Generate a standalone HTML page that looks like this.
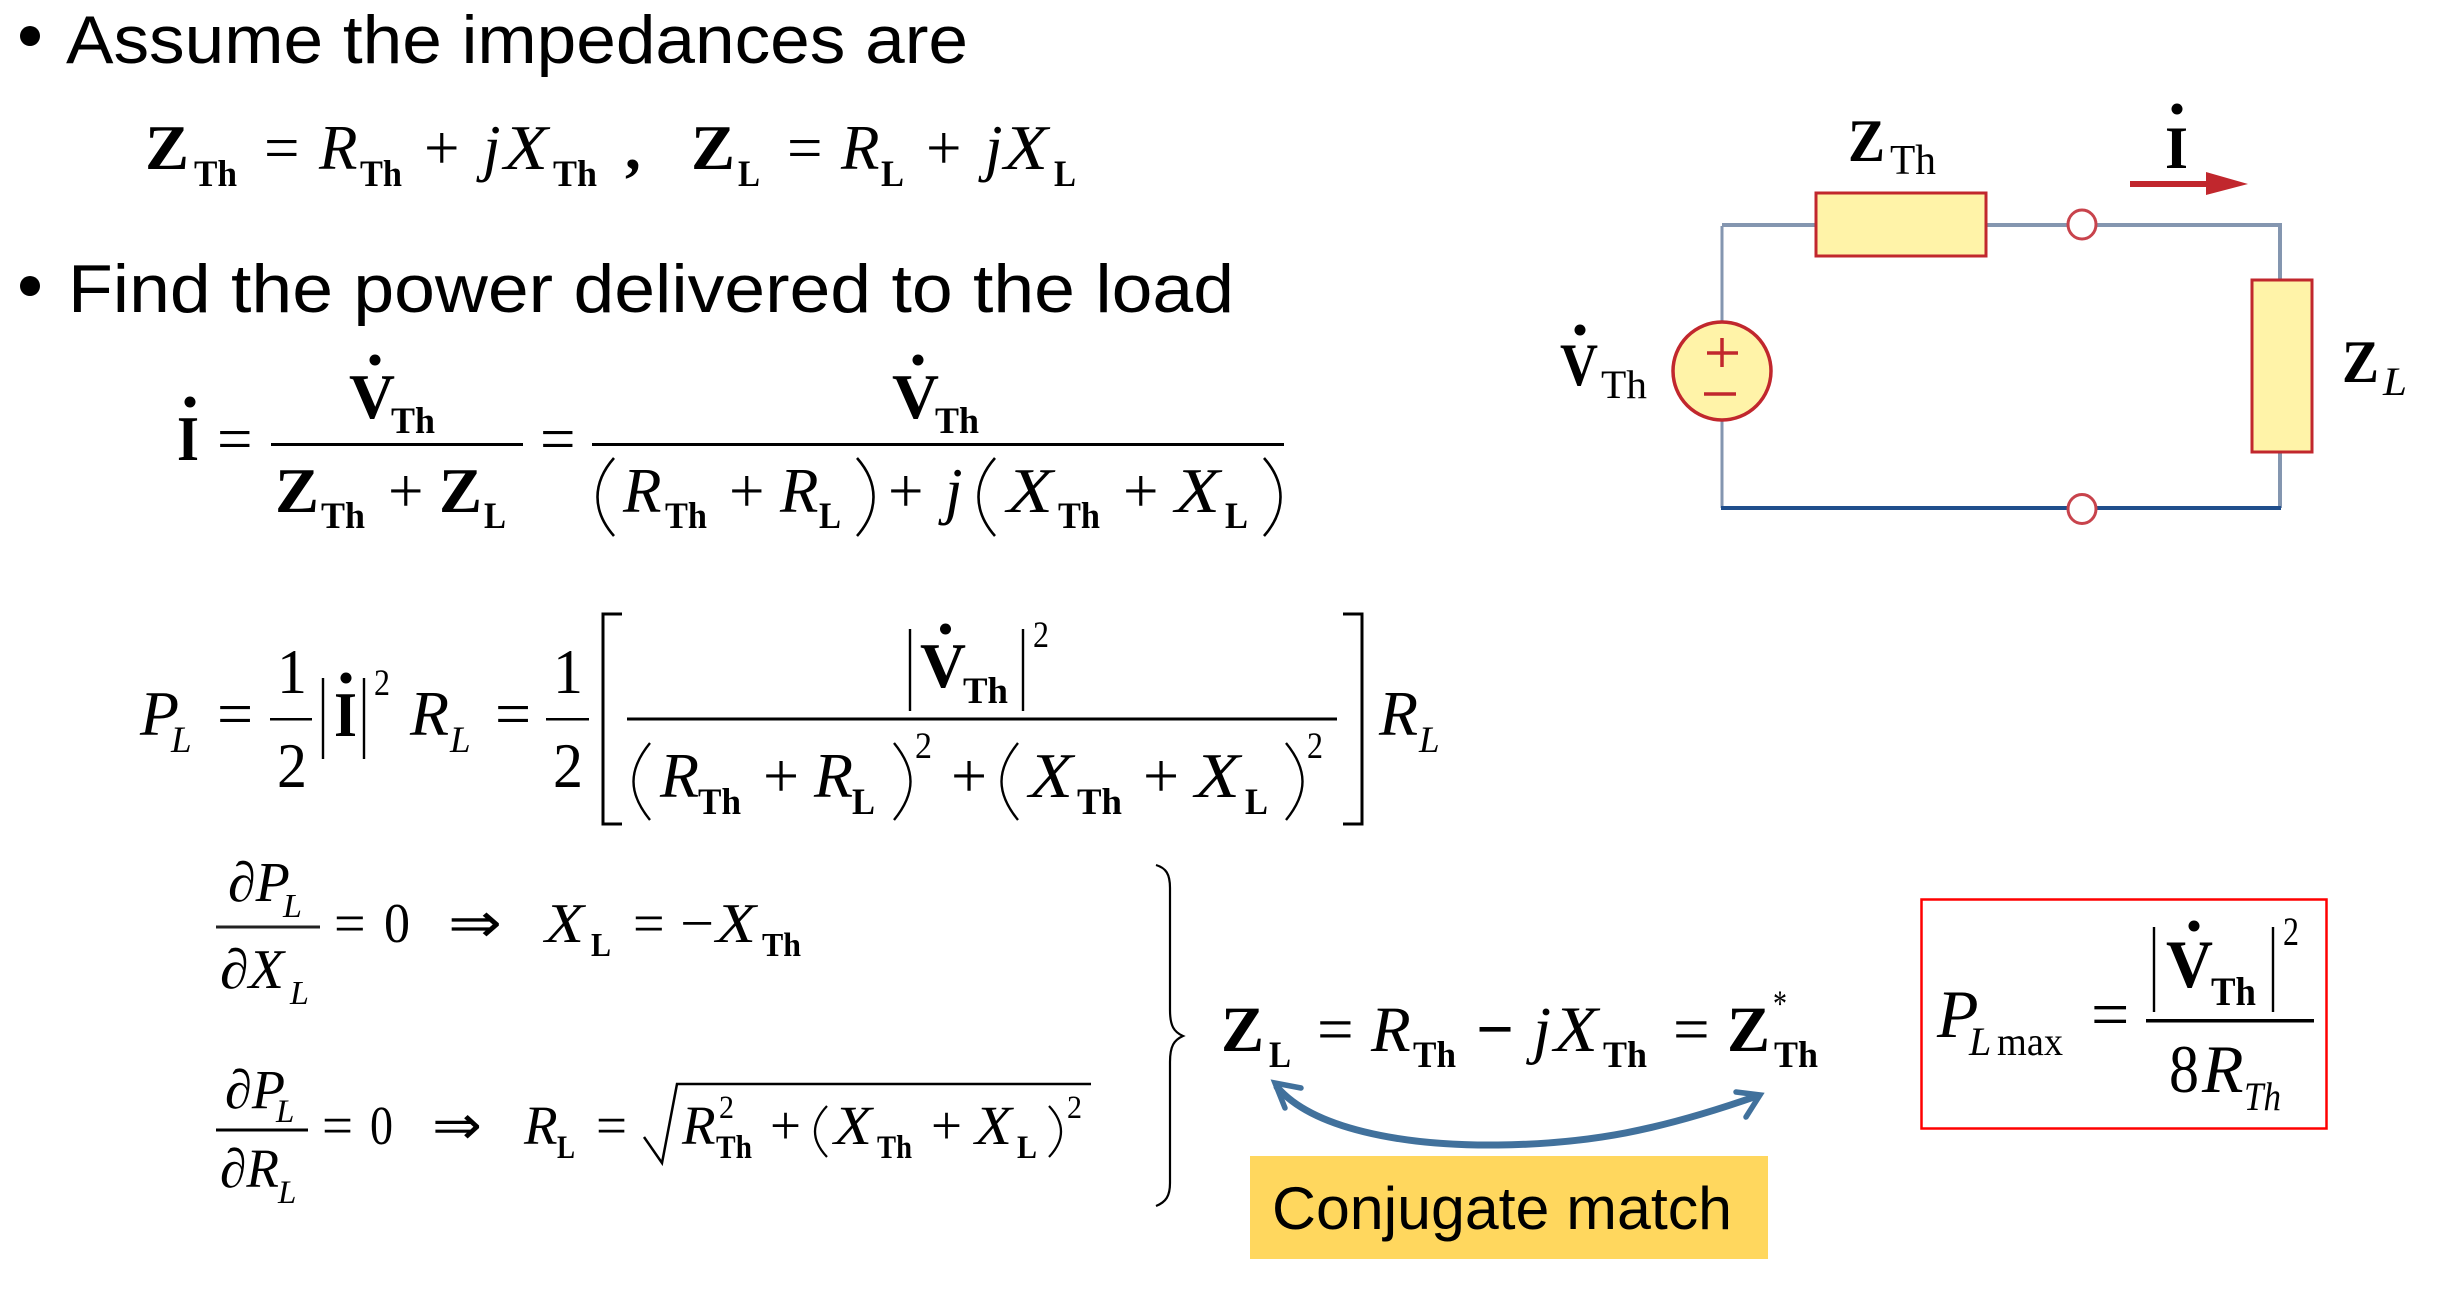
<!DOCTYPE html>
<html><head><meta charset="utf-8"><style>
html,body{margin:0;padding:0;background:#fff}
svg{display:block}
text{font-family:"Liberation Serif",serif;fill:#000;white-space:pre}
.s{font-family:"Liberation Sans",sans-serif}
.b{font-weight:bold}.i{font-style:italic}
.l{fill:none;stroke:#000}
</style></head><body>
<svg width="2442" height="1299" viewBox="0 0 2442 1299" xmlns="http://www.w3.org/2000/svg">
<rect width="2442" height="1299" fill="#fff"/>
<!-- bullets -->
<circle cx="30" cy="36" r="10"/><circle cx="30" cy="286" r="10"/>
<g class="s" font-size="68">
<text class="s" x="66" y="63" textLength="902" lengthAdjust="spacingAndGlyphs">Assume the impedances are</text>
<text class="s" x="68" y="312" textLength="1166" lengthAdjust="spacingAndGlyphs">Find the power delivered to the load</text>
</g>
<!-- Line 1 -->
<g font-size="63">
<text class="b" x="145" y="169" textLength="44" lengthAdjust="spacingAndGlyphs">Z</text>
<text x="264" y="169">=</text>
<text class="i" x="319" y="169">R</text>
<text x="424" y="169">+</text>
<text class="i" x="483" y="169">j</text>
<text class="i" x="504" y="169" textLength="44" lengthAdjust="spacingAndGlyphs">X</text>
<text class="b" x="625" y="169">,</text>
<text class="b" x="691" y="169" textLength="44" lengthAdjust="spacingAndGlyphs">Z</text>
<text x="787" y="169">=</text>
<text class="i" x="841" y="169">R</text>
<text x="926" y="169">+</text>
<text class="i" x="985" y="169">j</text>
<text class="i" x="1004" y="169" textLength="44" lengthAdjust="spacingAndGlyphs">X</text>
</g>
<g font-size="37" class="b">
<text class="b" x="194" y="186" textLength="43" lengthAdjust="spacingAndGlyphs">Th</text>
<text class="b" x="360" y="186" textLength="42" lengthAdjust="spacingAndGlyphs">Th</text>
<text class="b" x="553" y="186" textLength="44" lengthAdjust="spacingAndGlyphs">Th</text>
<text class="b" x="738" y="186" textLength="22" lengthAdjust="spacingAndGlyphs">L</text>
<text class="b" x="881" y="186" textLength="23" lengthAdjust="spacingAndGlyphs">L</text>
<text class="b" x="1054" y="186" textLength="22" lengthAdjust="spacingAndGlyphs">L</text>
</g>
<!-- I eq -->
<g font-size="63">
<text class="b" x="177" y="460" textLength="22" lengthAdjust="spacingAndGlyphs">I</text>
<text x="217" y="460">=</text>
<text class="b" x="349" y="418" textLength="46" lengthAdjust="spacingAndGlyphs">V</text>
<text class="b" x="275" y="512" textLength="44" lengthAdjust="spacingAndGlyphs">Z</text>
<text x="388" y="512">+</text>
<text class="b" x="439" y="512" textLength="43" lengthAdjust="spacingAndGlyphs">Z</text>
<text x="540" y="460">=</text>
<text class="b" x="892" y="418" textLength="47" lengthAdjust="spacingAndGlyphs">V</text>
<text class="i" x="623" y="512">R</text>
<text x="729" y="512">+</text>
<text class="i" x="780" y="512">R</text>
<text x="888" y="512">+</text>
<text class="i" x="945" y="512">j</text>
<text class="i" x="1007" y="512" textLength="46" lengthAdjust="spacingAndGlyphs">X</text>
<text x="1123" y="512">+</text>
<text class="i" x="1175" y="512" textLength="45" lengthAdjust="spacingAndGlyphs">X</text>
</g>
<circle cx="190" cy="402" r="5.5"/><circle cx="375" cy="360" r="5.5"/><circle cx="918" cy="360" r="5.5"/>
<g font-size="37">
<text x="391" y="433" class="b" textLength="44" lengthAdjust="spacingAndGlyphs">Th</text>
<text x="935" y="433" class="b" textLength="44" lengthAdjust="spacingAndGlyphs">Th</text>
<text x="321" y="528" class="b" textLength="44" lengthAdjust="spacingAndGlyphs">Th</text>
<text x="484" y="528" class="b" textLength="22" lengthAdjust="spacingAndGlyphs">L</text>
<text x="665" y="528" class="b" textLength="42" lengthAdjust="spacingAndGlyphs">Th</text>
<text x="819" y="528" class="b" textLength="22" lengthAdjust="spacingAndGlyphs">L</text>
<text x="1058" y="528" class="b" textLength="42" lengthAdjust="spacingAndGlyphs">Th</text>
<text x="1225" y="528" class="b" textLength="23" lengthAdjust="spacingAndGlyphs">L</text>
</g>
<rect x="271" y="443" width="252" height="3"/><rect x="592" y="443" width="692" height="3"/>
<g class="l" stroke-width="2.6">
<path d="M614 458C592 483 592 511 614 536"/><path d="M857 458C879 483 879 511 857 536"/>
<path d="M995 458C973 483 973 511 995 536"/><path d="M1264 458C1286 483 1286 511 1264 536"/>
</g>
<!-- P_L eq -->
<g font-size="64">
<text class="i" x="140" y="735">P</text>
<text x="217" y="735">=</text>
<text x="277" y="693" textLength="30" lengthAdjust="spacingAndGlyphs">1</text>
<text x="277" y="787" textLength="30" lengthAdjust="spacingAndGlyphs">2</text>
<text class="b" x="334" y="736" textLength="23" lengthAdjust="spacingAndGlyphs">I</text>
<text class="i" x="410" y="735">R</text>
<text x="495" y="735">=</text>
<text x="553" y="693" textLength="30" lengthAdjust="spacingAndGlyphs">1</text>
<text x="553" y="787" textLength="30" lengthAdjust="spacingAndGlyphs">2</text>
<text class="b" x="920" y="687" textLength="46" lengthAdjust="spacingAndGlyphs">V</text>
<text class="i" x="660" y="797">R</text>
<text x="763" y="797">+</text>
<text class="i" x="814" y="797">R</text>
<text x="951" y="797">+</text>
<text class="i" x="1029" y="797" textLength="44" lengthAdjust="spacingAndGlyphs">X</text>
<text x="1143" y="797">+</text>
<text class="i" x="1195" y="797" textLength="45" lengthAdjust="spacingAndGlyphs">X</text>
<text class="i" x="1379" y="735">R</text>
</g>
<circle cx="346" cy="678" r="5.5"/><circle cx="945.5" cy="629" r="5.5"/>
<g font-size="37">
<text class="i" x="171" y="752">L</text>
<text class="i" x="450" y="752">L</text>
<text class="i" x="1419" y="752">L</text>
<text x="374" y="695" textLength="16" lengthAdjust="spacingAndGlyphs">2</text>
<text x="1033" y="647" textLength="16" lengthAdjust="spacingAndGlyphs">2</text>
<text x="915" y="758" textLength="17" lengthAdjust="spacingAndGlyphs">2</text>
<text x="1307" y="758" textLength="16" lengthAdjust="spacingAndGlyphs">2</text>
<text class="b" x="963" y="703" textLength="45" lengthAdjust="spacingAndGlyphs">Th</text>
<text class="b" x="698" y="814" textLength="43" lengthAdjust="spacingAndGlyphs">Th</text>
<text class="b" x="852" y="814" textLength="23" lengthAdjust="spacingAndGlyphs">L</text>
<text class="b" x="1077" y="814" textLength="45" lengthAdjust="spacingAndGlyphs">Th</text>
<text class="b" x="1245" y="814" textLength="23" lengthAdjust="spacingAndGlyphs">L</text>
</g>
<rect x="270" y="718" width="42" height="2.5"/><rect x="546" y="718" width="43" height="2.5"/>
<rect x="627" y="717.5" width="710" height="3"/>
<g class="l" stroke-width="2.4">
<path d="M323 678V759M364 678V759M910 629V711M1023 629V711"/>
<path d="M650 743C628 770 628 793 650 820"/><path d="M894 743C916 770 916 793 894 820"/>
<path d="M1018 743C996 770 996 793 1018 820"/><path d="M1286 743C1308 770 1308 793 1286 820"/>
</g>
<path class="l" stroke-width="3" d="M622 614H603V824H622M1343 614H1362V824H1343"/>
<!-- partial 1 -->
<g font-size="56">
<text class="i" x="228" y="901">∂P</text>
<text x="334" y="942">=</text>
<text x="384" y="942" textLength="26" lengthAdjust="spacingAndGlyphs">0</text>
<text x="448" y="942" textLength="54" lengthAdjust="spacingAndGlyphs">⇒</text>
<text class="i" x="545" y="942" textLength="39" lengthAdjust="spacingAndGlyphs">X</text>
<text x="633" y="942">=</text>
<text x="680" y="942" textLength="34" lengthAdjust="spacingAndGlyphs">−</text>
<text class="i" x="716" y="942" textLength="40" lengthAdjust="spacingAndGlyphs">X</text>
<text class="i" x="220" y="988" textLength="64" lengthAdjust="spacingAndGlyphs">∂X</text>
</g>
<g font-size="34">
<text class="i" x="283" y="917">L</text>
<text class="b" x="591" y="956" textLength="20" lengthAdjust="spacingAndGlyphs">L</text>
<text class="b" x="762" y="956" textLength="39" lengthAdjust="spacingAndGlyphs">Th</text>
<text class="i" x="290" y="1004">L</text>
</g>
<rect x="216" y="925.5" width="104" height="3" fill="#222"/>
<!-- partial 2 -->
<g font-size="55">
<text class="i" x="225" y="1108" textLength="60" lengthAdjust="spacingAndGlyphs">∂P</text>
<text x="322" y="1144">=</text>
<text x="370" y="1144" textLength="23" lengthAdjust="spacingAndGlyphs">0</text>
<text x="432" y="1144" textLength="50" lengthAdjust="spacingAndGlyphs">⇒</text>
<text class="i" x="524" y="1144">R</text>
<text x="596" y="1144">=</text>
<text class="i" x="682" y="1144">R</text>
<text x="770" y="1144">+</text>
<text class="i" x="834" y="1144" textLength="38" lengthAdjust="spacingAndGlyphs">X</text>
<text x="931" y="1144">+</text>
<text class="i" x="975" y="1144" textLength="37" lengthAdjust="spacingAndGlyphs">X</text>
<text class="i" x="220" y="1187" textLength="59" lengthAdjust="spacingAndGlyphs">∂R</text>
</g>
<g font-size="33">
<text class="i" x="276" y="1122">L</text>
<text class="b" x="557" y="1158" textLength="18" lengthAdjust="spacingAndGlyphs">L</text>
<text x="719" y="1118" textLength="15" lengthAdjust="spacingAndGlyphs">2</text>
<text class="b" x="716" y="1158" textLength="36" lengthAdjust="spacingAndGlyphs">Th</text>
<text class="b" x="877" y="1158" textLength="35" lengthAdjust="spacingAndGlyphs">Th</text>
<text class="b" x="1017" y="1158" textLength="20" lengthAdjust="spacingAndGlyphs">L</text>
<text x="1067" y="1118" textLength="15" lengthAdjust="spacingAndGlyphs">2</text>
<text class="i" x="278" y="1203">L</text>
</g>
<rect x="216" y="1128.5" width="92" height="3"/>
<path class="l" stroke-width="2.5" d="M644 1137L662 1163L677 1084H1091"/>
<path class="l" stroke-width="2.2" d="M827 1106C811 1123 811 1140 827 1157M1049 1106C1065 1123 1065 1140 1049 1157"/>
<!-- brace -->
<path class="l" stroke-width="2.2" d="M1156 865C1166 868 1170 874 1170 888V1010C1170 1026 1174 1032 1183 1036C1174 1040 1170 1046 1170 1062V1183C1170 1196 1166 1202 1156 1206"/>
<!-- conjugate eq -->
<g font-size="65">
<text class="b" x="1221" y="1051" textLength="43" lengthAdjust="spacingAndGlyphs">Z</text>
<text x="1317" y="1051">=</text>
<text class="i" x="1371" y="1051">R</text>
<text class="b" x="1476" y="1051" textLength="38" lengthAdjust="spacingAndGlyphs">−</text>
<text class="i" x="1533" y="1051">j</text>
<text class="i" x="1554" y="1051" textLength="44" lengthAdjust="spacingAndGlyphs">X</text>
<text x="1673" y="1051">=</text>
<text class="b" x="1727" y="1051" textLength="43" lengthAdjust="spacingAndGlyphs">Z</text>
</g>
<g font-size="37">
<text class="b" x="1269" y="1067" textLength="22" lengthAdjust="spacingAndGlyphs">L</text>
<text class="b" x="1413" y="1067" textLength="43" lengthAdjust="spacingAndGlyphs">Th</text>
<text class="b" x="1603" y="1067" textLength="44" lengthAdjust="spacingAndGlyphs">Th</text>
<text x="1773" y="1016" textLength="14" lengthAdjust="spacingAndGlyphs">*</text>
<text class="b" x="1774" y="1067" textLength="44" lengthAdjust="spacingAndGlyphs">Th</text>
</g>
<!-- arrow -->
<g fill="none" stroke="#41719c" stroke-width="7" stroke-linecap="round">
<path d="M1277 1087C1312 1128 1400 1146 1498 1145C1590 1144 1660 1130 1757 1096"/>
<path stroke-width="5.5" d="M1285 1108L1275 1083L1301 1088"/>
<path stroke-width="5.5" d="M1736 1092L1760 1095L1746 1117"/>
</g>
<!-- yellow -->
<rect x="1250" y="1156" width="518" height="103" fill="#ffd75e"/>
<text class="s" x="1272" y="1229" font-size="60" textLength="460" lengthAdjust="spacingAndGlyphs">Conjugate match</text>
<!-- red box -->
<rect x="1921.5" y="899.5" width="405" height="229" fill="#fff" stroke="#f00" stroke-width="2.5"/>
<g font-size="68">
<text class="i" x="1937" y="1037">P</text>
<text x="2091" y="1037">=</text>
<text class="b" x="2166" y="987" textLength="47" lengthAdjust="spacingAndGlyphs">V</text>
<text x="2169" y="1092" textLength="30" lengthAdjust="spacingAndGlyphs">8</text>
<text class="i" x="2202" y="1092">R</text>
</g>
<g font-size="40">
<text class="i" x="1969" y="1055">L</text>
<text x="1997" y="1055" textLength="66" lengthAdjust="spacingAndGlyphs">max</text>
<text class="b" x="2211" y="1005" textLength="45" lengthAdjust="spacingAndGlyphs">Th</text>
<text x="2283" y="945" textLength="16" lengthAdjust="spacingAndGlyphs">2</text>
<text class="i" x="2244" y="1110" textLength="37" lengthAdjust="spacingAndGlyphs">Th</text>
</g>
<circle cx="2194" cy="926" r="5.5"/>
<rect x="2146" y="1019" width="168" height="3.5"/>
<path class="l" stroke-width="2.4" d="M2154 927V1012M2273 927V1012"/>
<!-- circuit -->
<path d="M1722 321V226M1722 421V508" fill="none" stroke="#8496b0" stroke-width="3"/>
<path d="M1722 225H2280V280M2280 452V508" fill="none" stroke="#8496b0" stroke-width="4"/>
<path d="M1721 508H2281" stroke="#1f4e8c" stroke-width="4"/>
<rect x="1816" y="193" width="170" height="63" fill="#fff3a8" stroke="#c1272d" stroke-width="3"/>
<rect x="2252" y="280" width="60" height="172" fill="#fff3a8" stroke="#c1272d" stroke-width="3"/>
<ellipse cx="2082" cy="224.500" rx="14" ry="14.500" fill="#fff" stroke="#c8434c" stroke-width="3"/>
<ellipse cx="2082" cy="509" rx="14" ry="14.500" fill="#fff" stroke="#c8434c" stroke-width="3"/>
<ellipse cx="1722" cy="371" rx="49" ry="49" fill="#fff3a8" stroke="#c1272d" stroke-width="3.500"/>
<path d="M1707 353H1738M1722 338V367M1704 394H1736" stroke="#c1272d" stroke-width="3.500" fill="none"/>
<path d="M2130 181H2206V172L2248 184L2206 195V187H2130Z" fill="#c1272d"/>
<text x="1848" y="161" font-size="60" textLength="37" lengthAdjust="spacingAndGlyphs" class="b">Z</text>
<text x="1890" y="174" font-size="42" textLength="46" lengthAdjust="spacingAndGlyphs">Th</text>
<text x="2165" y="168" font-size="60" textLength="23" lengthAdjust="spacingAndGlyphs" class="b">I</text>
<circle cx="2177" cy="109" r="5.500"/>
<text x="1560" y="385" font-size="60" textLength="38" lengthAdjust="spacingAndGlyphs" class="b">V</text>
<circle cx="1580" cy="330" r="5.500"/>
<text x="1601" y="398" font-size="40" textLength="46" lengthAdjust="spacingAndGlyphs">Th</text>
<text x="2342" y="382" font-size="60" textLength="37" lengthAdjust="spacingAndGlyphs" class="b">Z</text>
<text x="2383" y="395" font-size="40" textLength="24" lengthAdjust="spacingAndGlyphs" class="i">L</text>
</svg>
</body></html>
